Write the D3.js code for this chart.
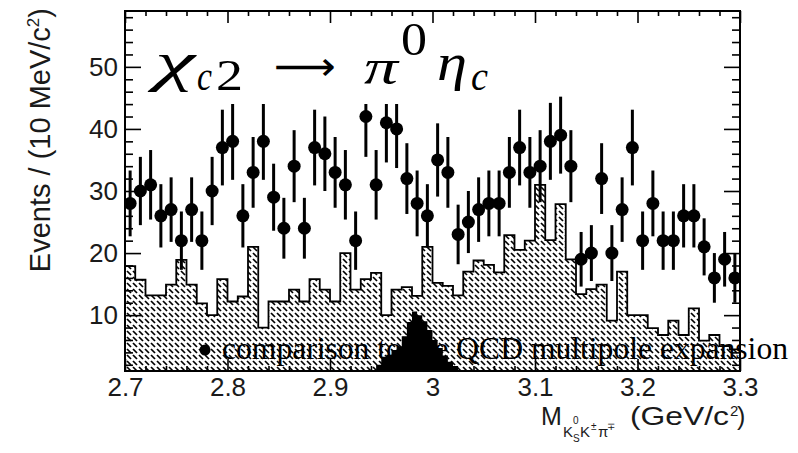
<!DOCTYPE html>
<html>
<head>
<meta charset="utf-8">
<script src="https://cdn.jsdelivr.net/npm/d3@7"></script>
<style>
  html, body { margin: 0; padding: 0; background: #fff; }
  svg { display: block; }
</style>
</head>
<body>
<svg id="chart" width="798" height="453"></svg>
<script>
// ---- Mass spectrum: 10 MeV bins from 2.70 to 3.30 GeV/c^2 ----
const binWidth = 0.01;
const binLow = [
  2.70, 2.71, 2.72, 2.73, 2.74, 2.75, 2.76, 2.77, 2.78, 2.79,
  2.80, 2.81, 2.82, 2.83, 2.84, 2.85, 2.86, 2.87, 2.88, 2.89,
  2.90, 2.91, 2.92, 2.93, 2.94, 2.95, 2.96, 2.97, 2.98, 2.99,
  3.00, 3.01, 3.02, 3.03, 3.04, 3.05, 3.06, 3.07, 3.08, 3.09,
  3.10, 3.11, 3.12, 3.13, 3.14, 3.15, 3.16, 3.17, 3.18, 3.19,
  3.20, 3.21, 3.22, 3.23, 3.24, 3.25, 3.26, 3.27, 3.28, 3.29
];

// Observed events per bin
const dataCounts = [
  28, 30, 31, 26, 27, 22, 27, 22, 30, 37,
  38, 26, 33, 38, 29, 24, 34, 24, 37, 36,
  33, 31, 22, 42, 31, 41, 40, 32, 28, 26,
  35, 33, 23, 25, 27, 28, 28, 33, 37, 33,
  34, 38, 39, 34, 19, 20, 32, 20, 27, 37,
  22, 28, 22, 22, 26, 26, 21, 16, 19, 16
];

// Statistical uncertainty on each bin
const dataErrors = [
  5.3, 5.5, 5.6, 5.1, 5.2, 4.7, 5.2, 4.7, 5.5, 6.1,
  6.2, 5.1, 5.7, 6.2, 5.4, 4.9, 5.8, 4.9, 6.1, 6.0,
  5.7, 5.6, 4.7, 6.5, 5.6, 6.4, 6.3, 5.7, 5.3, 5.1,
  5.9, 5.7, 4.8, 5.0, 5.2, 5.3, 5.3, 5.7, 6.1, 5.7,
  5.8, 6.2, 6.2, 5.8, 4.4, 4.5, 5.7, 4.5, 5.2, 6.1,
  4.7, 5.3, 4.7, 4.7, 5.1, 5.1, 4.6, 4.0, 4.4, 4.0
];

// Hatched background histogram
const bkgCounts = [
  17.9, 15.7, 13.2, 13.2, 14.9, 18.9, 14.9, 11.9, 10.0, 15.8,
  12.2, 13.0, 21.0,  8.0, 12.2, 12.2, 14.1, 12.2, 15.8, 14.1,
  12.2, 20.0, 14.1, 15.8, 16.8, 10.0, 14.1, 14.5, 13.1, 21.0,
  15.2, 14.7, 13.2, 17.0, 18.8, 18.1, 16.9, 22.9, 20.5, 22.0,
  31.0, 22.1, 27.9, 19.0, 13.4, 14.2, 14.9,  9.1, 17.0, 10.0,
  10.0,  7.9,  6.8,  9.1,  6.8, 11.1,  5.9,  6.8,  5.0,  4.5
];

// Solid eta_c signal shape (5 MeV bins)
const sigWidth = 0.005;
const sigLow = [
  2.945, 2.950, 2.955, 2.960, 2.965, 2.970, 2.975, 2.980,
  2.985, 2.990, 2.995, 3.000, 3.005, 3.010, 3.015, 3.020
];
const sigCounts = [
  2.0, 3.3, 3.6, 4.4, 5.0, 6.6, 8.9, 10.6,
  10.0, 9.0, 7.6, 6.0, 4.7, 3.5, 2.5, 1.8
];

// Axis ticks
const xMajor = [2.7, 2.8, 2.9, 3.0, 3.1, 3.2, 3.3];
const xMajorLabels = ["2.7", "2.8", "2.9", "3", "3.1", "3.2", "3.3"];
const xMinor = [2.72, 2.74, 2.76, 2.78, 2.82, 2.84, 2.86, 2.88, 2.92, 2.94, 2.96, 2.98,
                3.02, 3.04, 3.06, 3.08, 3.12, 3.14, 3.16, 3.18, 3.22, 3.24, 3.26, 3.28];
const yMajor = [10, 20, 30, 40, 50];
const yMajorLabels = ["10", "20", "30", "40", "50"];
const yMinor = [2, 4, 6, 8, 12, 14, 16, 18, 22, 24, 26, 28, 32, 34, 36, 38, 42, 44, 46, 48, 52, 54, 56, 58];

const legendText = "comparison to the QCD multipole expansion";

// ---- Layout ----
const svg = d3.select("#chart");
const plot = { left: 125, right: 740, top: 11, bottom: 371 };

const x = d3.scaleLinear().domain([2.7, 3.3]).range([plot.left, plot.right]);
const y = d3.scaleLinear().domain([1, 59]).range([plot.bottom, plot.top]);

const defs = svg.append("defs");
const hatch = defs.append("pattern")
  .attr("id", "hatch")
  .attr("patternUnits", "userSpaceOnUse")
  .attr("width", 6).attr("height", 6);
hatch.append("rect").attr("width", 6).attr("height", 6).attr("fill", "#fff");
hatch.append("path")
  .attr("d", "M1,1 L5,5")
  .attr("stroke", "#000")
  .attr("stroke-width", 1.7)
  .attr("stroke-linecap", "butt");

defs.append("clipPath").attr("id", "plotClip")
  .append("rect")
  .attr("x", plot.left).attr("y", plot.top)
  .attr("width", plot.right - plot.left).attr("height", plot.bottom - plot.top);

// Step outline vertices for a histogram
function stepVertices(lows, width, counts) {
  const pts = [];
  lows.forEach((lo, i) => {
    pts.push([lo, counts[i]]);
    pts.push([lo + width, counts[i]]);
  });
  return pts;
}

const bkgPts = stepVertices(binLow, binWidth, bkgCounts);
const sigPts = stepVertices(sigLow, sigWidth, sigCounts);

const area = d3.area()
  .x(d => x(d[0]))
  .y0(y(1))
  .y1(d => y(d[1]));

const g = svg.append("g").attr("clip-path", "url(#plotClip)");

// background histogram
g.append("path")
  .datum(bkgPts)
  .attr("d", area)
  .attr("fill", "url(#hatch)");

// signal shape
g.append("path")
  .datum(sigPts)
  .attr("d", area)
  .attr("fill", "#000");

// histogram outline
const outline = [[binLow[0], 1], ...bkgPts, [binLow[binLow.length - 1] + binWidth, 1]];
g.append("path")
  .datum(outline)
  .attr("d", d3.line().x(d => x(d[0])).y(d => y(d[1])))
  .attr("fill", "none")
  .attr("stroke", "#000")
  .attr("stroke-width", 1.8);

// data points with error bars
const pts = g.append("g");
binLow.forEach((lo, i) => {
  const cx = x(lo + binWidth / 2);
  pts.append("line")
    .attr("x1", cx).attr("x2", cx)
    .attr("y1", y(dataCounts[i] - dataErrors[i]))
    .attr("y2", y(dataCounts[i] + dataErrors[i]))
    .attr("stroke", "#000")
    .attr("stroke-width", 3);
  pts.append("circle")
    .attr("cx", cx).attr("cy", y(dataCounts[i]))
    .attr("r", 6.5)
    .attr("fill", "#000");
});

// legend entry
svg.append("circle")
  .attr("cx", 205).attr("cy", 350).attr("r", 5.5).attr("fill", "#000");
svg.append("text")
  .attr("x", 222).attr("y", 359)
  .attr("font-family", "'Liberation Serif', 'Times New Roman', serif")
  .attr("font-size", 31)
  .attr("textLength", 566).attr("lengthAdjust", "spacingAndGlyphs")
  .attr("fill", "#000")
  .text(legendText);

// title panel
svg.append("rect")
  .attr("x", 145).attr("y", 13).attr("width", 362).attr("height", 91)
  .attr("fill", "#fff");

const serif = "'Liberation Serif', 'DejaVu Serif', serif";
const titleParts = [
  { t: "\u03C7", x: 155, y: 80, it: true, fs: 54, len: 40 },
  { t: "c", x: 197, y: 90, it: true, fs: 42, len: 15 },
  { t: "2", x: 216, y: 90, it: false, fs: 44, len: 27 },
  { t: "\u27F6", x: 274, y: 80, it: false, fs: 40, len: 62, font: "'DejaVu Sans', sans-serif" },
  { t: "\u03C0", x: 364, y: 84, it: true, fs: 50, len: 34 },
  { t: "0", x: 401, y: 55, it: false, fs: 46, len: 26 },
  { t: "\u03B7", x: 437, y: 80, it: true, fs: 52, len: 30 },
  { t: "c", x: 471, y: 90, it: true, fs: 42, len: 17 }
];
titleParts.forEach(p => {
  const t = svg.append("text")
    .attr("x", p.x).attr("y", p.y)
    .attr("font-family", p.font || serif)
    .attr("font-size", p.fs)
    .attr("font-style", p.it ? "italic" : "normal")
    .attr("fill", "#000")
    .text(p.t);
  if (p.len) t.attr("textLength", p.len).attr("lengthAdjust", "spacingAndGlyphs");
});

// ---- Axes (ticks point inwards on all four sides) ----
const sans = "'Liberation Sans', Arial, Helvetica, sans-serif";
function styleAxis(sel) {
  sel.select(".domain").remove();
  sel.selectAll("line").attr("stroke", "#000").attr("stroke-width", 1.6);
  sel.selectAll("text").attr("font-family", sans).attr("font-size", 26).attr("fill", "#1a1a1a");
}

svg.append("g").attr("transform", `translate(0,${plot.bottom})`)
  .call(d3.axisBottom(x).tickValues(xMajor).tickSize(-12).tickPadding(7)
    .tickFormat((d, i) => xMajorLabels[i]))
  .call(styleAxis);
svg.append("g").attr("transform", `translate(0,${plot.bottom})`)
  .call(d3.axisBottom(x).tickValues(xMinor).tickSize(-5).tickFormat(""))
  .call(styleAxis);
svg.append("g").attr("transform", `translate(0,${plot.top})`)
  .call(d3.axisTop(x).tickValues(xMajor).tickSize(-12).tickFormat(""))
  .call(styleAxis);
svg.append("g").attr("transform", `translate(0,${plot.top})`)
  .call(d3.axisTop(x).tickValues(xMinor).tickSize(-5).tickFormat(""))
  .call(styleAxis);

svg.append("g").attr("transform", `translate(${plot.left},0)`)
  .call(d3.axisLeft(y).tickValues(yMajor).tickSize(-16).tickPadding(7)
    .tickFormat((d, i) => yMajorLabels[i]))
  .call(styleAxis);
svg.append("g").attr("transform", `translate(${plot.left},0)`)
  .call(d3.axisLeft(y).tickValues(yMinor).tickSize(-8).tickFormat(""))
  .call(styleAxis);
svg.append("g").attr("transform", `translate(${plot.right},0)`)
  .call(d3.axisRight(y).tickValues(yMajor).tickSize(-16).tickFormat(""))
  .call(styleAxis);
svg.append("g").attr("transform", `translate(${plot.right},0)`)
  .call(d3.axisRight(y).tickValues(yMinor).tickSize(-8).tickFormat(""))
  .call(styleAxis);

// frame
svg.append("rect")
  .attr("x", plot.left).attr("y", plot.top)
  .attr("width", plot.right - plot.left).attr("height", plot.bottom - plot.top)
  .attr("fill", "none").attr("stroke", "#000").attr("stroke-width", 2);

// ---- Axis titles ----
const yTitle = svg.append("text")
  .attr("transform", "translate(50,8) rotate(-90)")
  .attr("text-anchor", "end")
  .attr("font-family", sans).attr("font-size", 29).attr("fill", "#1a1a1a");
yTitle.append("tspan").text("Events / (10 MeV/c");
yTitle.append("tspan").attr("font-size", 17).attr("dy", -11).text("2");
yTitle.append("tspan").attr("dy", 11).text(")");

const xt = svg.append("g").attr("font-family", sans).attr("fill", "#1a1a1a");
xt.append("text").attr("x", 541).attr("y", 425).attr("font-size", 25).text("M");
xt.append("text").attr("x", 563).attr("y", 437).attr("font-size", 15).text("K");
xt.append("text").attr("x", 573).attr("y", 424).attr("font-size", 10).text("0");
xt.append("text").attr("x", 573).attr("y", 442).attr("font-size", 10).text("S");
xt.append("text").attr("x", 580).attr("y", 437).attr("font-size", 15).text("K");
xt.append("text").attr("x", 591).attr("y", 430).attr("font-size", 10).text("\u00B1");
xt.append("text").attr("x", 598).attr("y", 437).attr("font-size", 15).text("\u03C0");
xt.append("text").attr("x", 607).attr("y", 430).attr("font-size", 10).text("\u2213");
xt.append("text").attr("x", 630).attr("y", 425).attr("font-size", 25)
  .attr("textLength", 99).attr("lengthAdjust", "spacingAndGlyphs").text("(GeV/c");
xt.append("text").attr("x", 730).attr("y", 416).attr("font-size", 15).text("2");
xt.append("text").attr("x", 737).attr("y", 425).attr("font-size", 25).text(")");
</script>
</body>
</html>
